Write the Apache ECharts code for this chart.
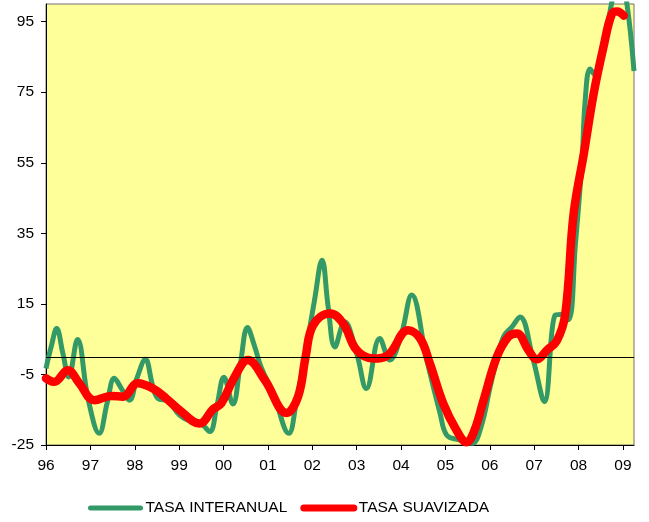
<!DOCTYPE html>
<html>
<head>
<meta charset="utf-8" />
<title>Tasa interanual</title>
<script src="https://cdn.jsdelivr.net/npm/echarts@6/dist/echarts.min.js"></script>
<style>
  * { margin: 0; padding: 0; }
  html, body { width: 649px; height: 522px; background: #fff; }
</style>
</head>
<body>
<div id="main" style="width:649px;height:522px;"></div>
<script>
// TASA INTERANUAL (green)
const greenTimes = [1996.00, 1996.12, 1996.24, 1996.38, 1996.51, 1996.71, 1996.95, 1997.20, 1997.38, 1997.54,
  1997.70, 1997.88, 1998.05, 1998.24, 1998.40, 1998.52, 1998.75, 1999.01, 1999.30, 1999.50,
  1999.69, 1999.85, 2000.01, 2000.21, 2000.38, 2000.54, 2000.70, 2000.85, 2001.12, 2001.47,
  2001.65, 2001.83, 2002.05, 2002.22, 2002.36, 2002.51, 2002.73, 2003.00, 2003.22, 2003.52,
  2003.75, 2004.00, 2004.24, 2004.58, 2004.88, 2005.03, 2005.30, 2005.60, 2005.80, 2006.01,
  2006.12, 2006.31, 2006.50, 2006.68, 2006.98, 2007.23, 2007.47, 2007.60, 2007.77, 2007.93,
  2008.08, 2008.15, 2008.26, 2008.38, 2008.60, 2008.75, 2008.92, 2009.08, 2009.25];
const greenValues = [-3.3, 3, 8.0, 1, -5.7, 4.9, -12, -21.7, -13, -6.1,
  -9, -12.3, -6, -0.7, -8, -11.8, -12.5, -16.5, -18.5, -19,
  -21.2, -14, -5.8, -13.4, -2, 8.3, 3, -3, -10.3, -21.7,
  -12, 0, 16, 27.4, 14, 2.8, 9.9, 1, -9.0, 5.2,
  -0.9, 6, 17.5, -0.9, -16, -22.2, -23.5, -24.5, -20, -8.5,
  -2.8, 5.7, 8.5, 11.3, -0.9, -12.7, 11.8, 12, 10.5, 32,
  55.7, 72.6, 81.6, 79.7, 90, 100.5, 109, 101, 81];

// TASA SUAVIZADA (red)
const redTimes = [1996.00, 1996.19, 1996.49, 1996.75, 1997.09, 1997.47, 1997.73, 1998.07, 1998.41, 1998.71,
  1999.01, 1999.46, 1999.76, 1999.95, 2000.25, 2000.55, 2000.93, 2001.42, 2001.68, 2001.85,
  2002.02, 2002.40, 2002.70, 2003.00, 2003.37, 2003.71, 2004.16, 2004.43, 2004.65, 2004.95,
  2005.25, 2005.48, 2005.65, 2005.86, 2006.16, 2006.42, 2006.61, 2006.87, 2007.06, 2007.29,
  2007.51, 2007.70, 2007.89, 2008.12, 2008.34, 2008.56, 2008.75, 2008.87, 2009.02];
const redValues = [-6.1, -7.1, -3.8, -7.5, -12.3, -11.1, -11.3, -7.5, -9, -11.8,
  -15.1, -18.9, -14.9, -13.2, -5.7, -0.9, -6.6, -15.9, -11.3, 0,
  9, 12.3, 9.4, 1.9, -0.5, 0.5, 7.5, 5.2, -1.9, -13.2,
  -20.8, -24.2, -21, -12.3, 0, 5.7, 6.6, 1.9, -0.7, 1.9,
  4.5, 12, 40.6, 57.6, 74.5, 87.7, 97.2, 97.9, 96.7];

const yTicks = [-25, -5, 15, 35, 55, 75, 95];
const xYears = [1996, 1997, 1998, 1999, 2000, 2001, 2002, 2003, 2004, 2005, 2006, 2007, 2008, 2009];
const xLabels = ['96', '97', '98', '99', '00', '01', '02', '03', '04', '05', '06', '07', '08', '09'];

const font = 'Liberation Sans, Arial, sans-serif';
const pairs = (t, v) => t.map((x, i) => [x, v[i]]);

const chart = echarts.init(document.getElementById('main'));
chart.setOption({
  animation: false,
  backgroundColor: '#ffffff',
  textStyle: { fontFamily: font },
  grid: {
    left: 46, right: 15, top: 4, bottom: 77,
    show: true,
    backgroundColor: '#FFFF99',
    borderColor: '#707070',
    borderWidth: 1
  },
  legend: {
    left: 88, top: 500, padding: 0,
    itemWidth: 50, itemHeight: 14, itemGap: 13,
    itemStyle: { opacity: 0, borderWidth: 0 },
    textStyle: { fontSize: 15.5, color: '#000', fontFamily: font },
    data: [
      { name: 'TASA INTERANUAL', lineStyle: { width: 5, cap: 'round' } },
      { name: 'TASA SUAVIZADA', lineStyle: { width: 7, cap: 'round' } }
    ]
  },
  xAxis: {
    type: 'value',
    min: 1996, max: 2009.25,
    axisLine: { onZero: false, lineStyle: { color: '#000', width: 1 } },
    axisTick: { length: 5, lineStyle: { color: '#000' }, customValues: xYears },
    axisLabel: {
      customValues: xYears,
      formatter: v => xLabels[xYears.indexOf(Math.round(v))],
      fontSize: 15.5, color: '#000', margin: 13, fontFamily: font
    },
    splitLine: { show: false }
  },
  yAxis: {
    type: 'value',
    min: -25, max: 100,
    axisLine: { show: true, onZero: false, lineStyle: { color: '#000', width: 1 } },
    axisTick: { show: true, length: 5, lineStyle: { color: '#000' }, customValues: yTicks },
    axisLabel: { customValues: yTicks, fontSize: 15.5, color: '#000', margin: 12, fontFamily: font },
    splitLine: { show: false }
  },
  series: [
    {
      name: 'TASA INTERANUAL',
      type: 'line',
      data: pairs(greenTimes, greenValues),
      smooth: 0.4,
      showSymbol: false,
      symbol: 'none',
      z: 2,
      lineStyle: { color: '#339966', width: 5 },
      itemStyle: { color: '#339966' },
      markLine: {
        silent: true,
        symbol: 'none',
        label: { show: false },
        lineStyle: { color: '#000', width: 1, type: 'solid' },
        data: [{ yAxis: 0 }]
      }
    },
    {
      name: 'TASA SUAVIZADA',
      type: 'line',
      data: pairs(redTimes, redValues),
      smooth: 0.4,
      showSymbol: false,
      symbol: 'none',
      z: 3,
      lineStyle: { color: '#FF0000', width: 8.5, cap: 'round', join: 'round' },
      itemStyle: { color: '#FF0000' }
    }
  ]
});
</script>
</body>
</html>
